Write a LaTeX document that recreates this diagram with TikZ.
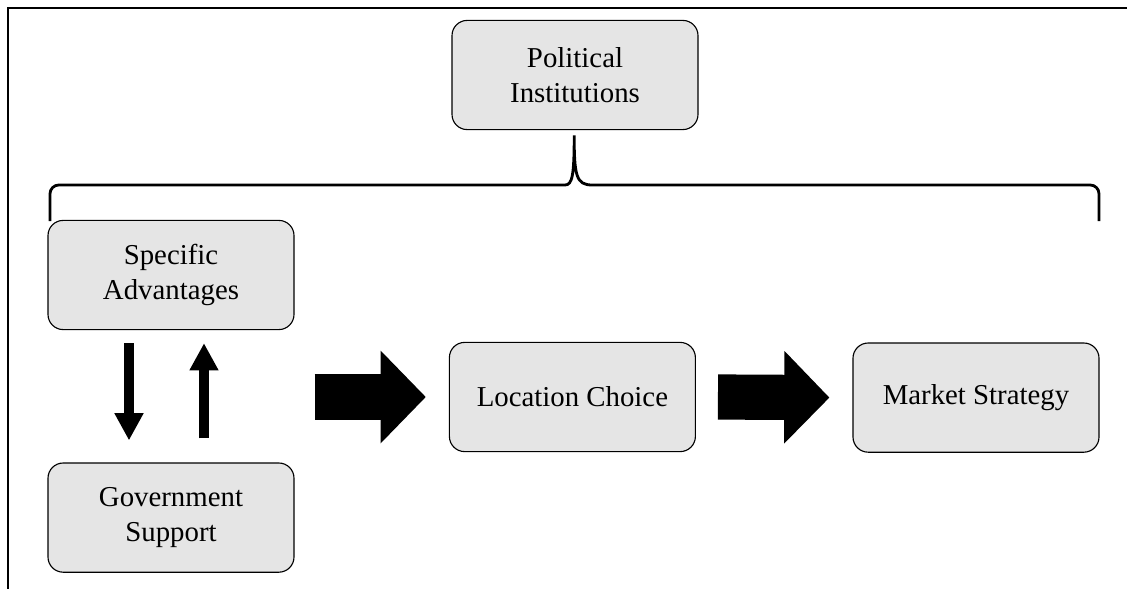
\documentclass[tikz,border=0pt]{standalone}
\usepackage{fontspec}
\setmainfont{Liberation Serif}
\usepackage{tikz}
\usetikzlibrary{arrows.meta,calc,positioning}

\begin{document}
\begin{tikzpicture}[font=\fontsize{20.5}{24.5}\selectfont,
  factor/.style={draw,line width=0.8pt,fill=gray!20,rounded corners=0.38cm,
    minimum width=6.15cm,minimum height=2.73cm,align=center},
  fatarrow/.style={line width=1.13cm,-{Triangle[length=1.13cm,width=2.25cm]}},
  thinarrow/.style={line width=0.25cm,-{Triangle[length=0.68cm,width=0.68cm]}}]
\useasboundingbox (0,0) rectangle (28.175,-14.725);
% frame
\draw[line width=1.4pt] (0.19,-14.725) -- (0.19,-0.21) -- (28.175,-0.21);
% boxes
\node[factor] (pol) at (14.375,-1.875) {Political\\Institutions};
\node[factor] (spec) at (4.275,-6.875) {Specific\\Advantages};
\node[factor] (gov) at (4.275,-12.94) {Government\\Support};
\node[factor] (loc) at (14.31,-9.925) {Location Choice};
\node[factor] (mkt) at (24.4,-9.94) {Market Strategy};
% brace
\coordinate (tip) at ($(pol.south)+(-0.02,-0.13)$);
\draw[line width=2pt,rounded corners=0.22cm] (1.25,-5.525) -- (1.25,-4.625)
  -- ($(tip|-0,-4.625)+(-0.45,0)$) [rounded corners=0pt]
  .. controls ($(tip|-0,-4.625)+(-0.05,0)$) and ($(tip|-0,-4.4)$) .. (tip)
  .. controls ($(tip|-0,-4.4)$) and ($(tip|-0,-4.625)+(0.05,0)$) .. ($(tip|-0,-4.625)+(0.45,0)$)
  [rounded corners=0.22cm] -- (27.475,-4.625) -- (27.475,-5.525);
% arrows
\draw[thinarrow] ([xshift=-1.05cm,yshift=-0.325cm]spec.south) -- ([xshift=-1.05cm,yshift=0.55cm]gov.north);
\draw[thinarrow] ([xshift=0.825cm,yshift=0.6cm]gov.north) -- ([xshift=0.825cm,yshift=-0.325cm]spec.south);
\draw[fatarrow] ([xshift=0.5cm]loc.west -| spec.east) -- ([xshift=-0.575cm]loc.west);
\draw[fatarrow] ([xshift=0.55cm]loc.east) -- ([xshift=-0.575cm]mkt.west);
\end{tikzpicture}
\end{document}
